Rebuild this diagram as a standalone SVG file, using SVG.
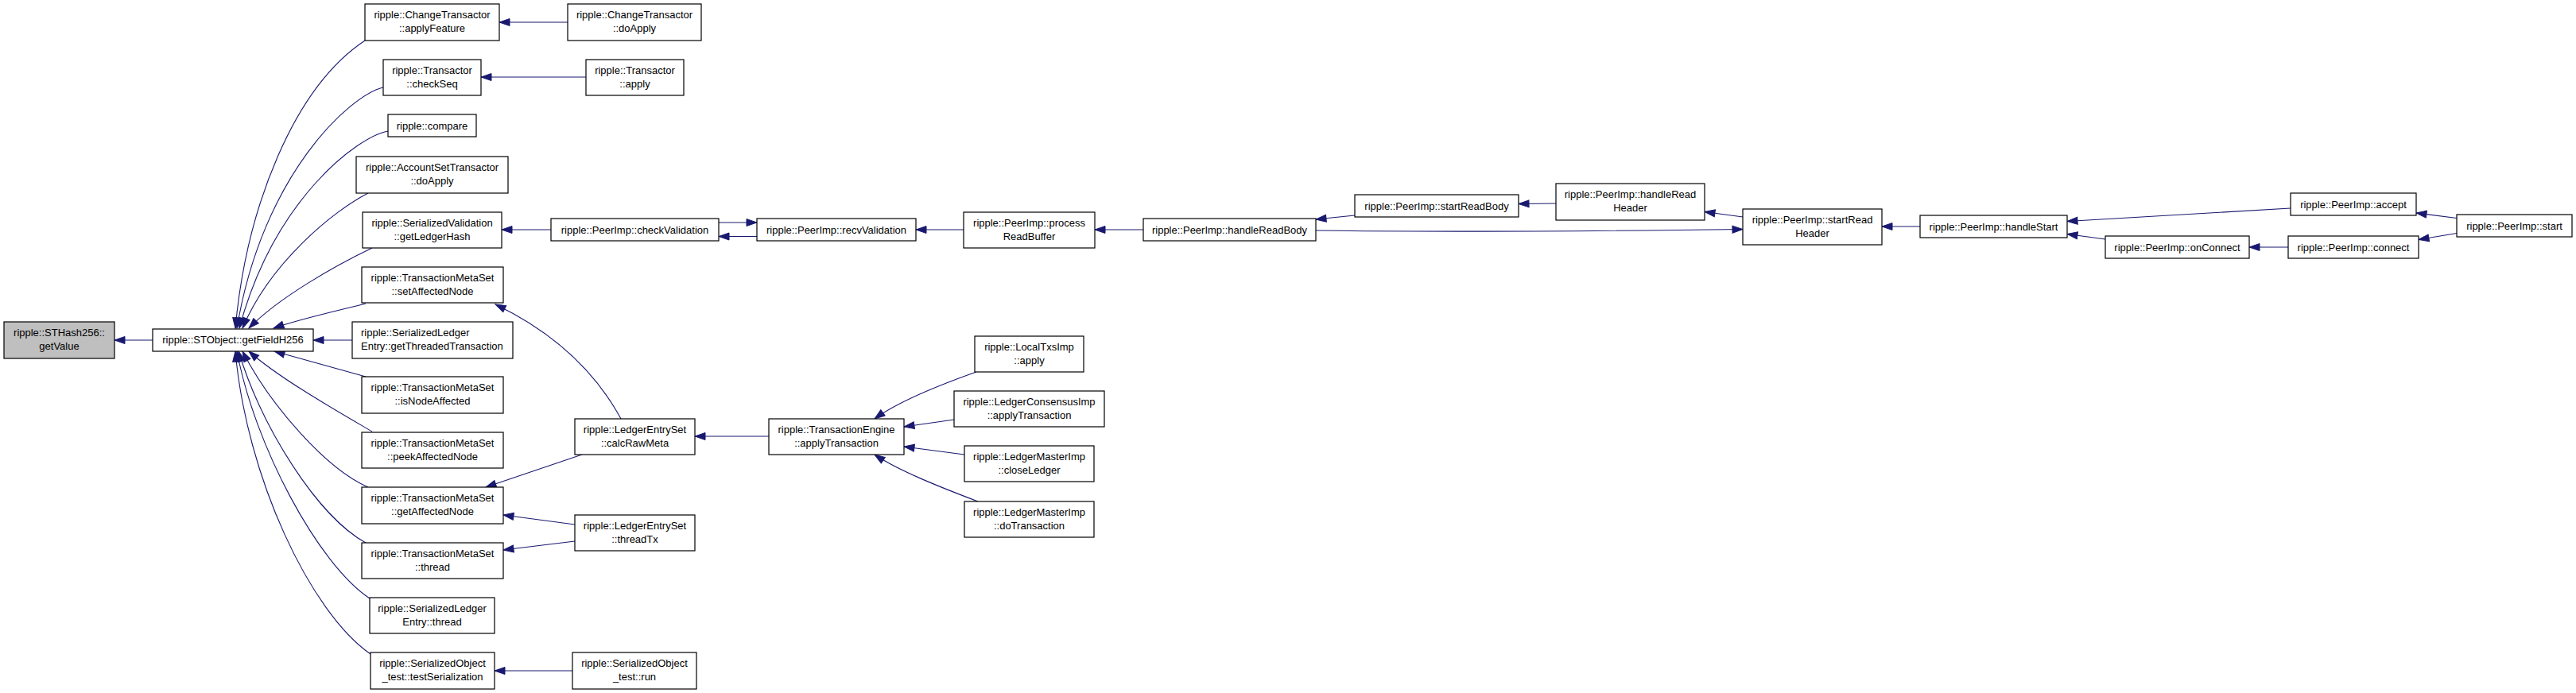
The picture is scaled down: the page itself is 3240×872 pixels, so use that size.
<svg xmlns="http://www.w3.org/2000/svg" width="3240" height="872" viewBox="0 0 3240 872">
<style>
.n rect{fill:#fff;stroke:#000;stroke-width:1.2}
.n.g rect{fill:#bfbfbf}
.n text{font-family:"Liberation Sans",Arial,sans-serif;font-size:13px;text-anchor:middle;fill:#000}
.n text.l{text-anchor:start}
.e path{fill:none;stroke:#191970;stroke-width:1.1;marker-end:url(#arr)}
</style>
<defs>
<marker id="arr" markerUnits="userSpaceOnUse" markerWidth="14" markerHeight="10" refX="13" refY="4.5" orient="auto" viewBox="0 0 14 10" overflow="visible">
<path d="M0,0 L13,4.5 L0,9 z" fill="#191970" stroke="#191970" stroke-width="1"/>
</marker>
</defs>
<rect width="3240" height="872" fill="#fff"/>
<g class="e" id="edges">
<path d="M192,428 L144,428"/>
<path d="M459,51 C370,110 310,260 296,413"/>
<path d="M482,110 C440,120 330,220 298,413"/>
<path d="M488,165 C450,172 345,250 301,413"/>
<path d="M463,243 C420,265 340,330 305,413"/>
<path d="M468,312 C420,335 350,375 313,413"/>
<path d="M460,382 C420,392 375,402 344,413"/>
<path d="M443,428 L394,428"/>
<path d="M460,474 C420,463 380,452 345,442"/>
<path d="M468,543 C420,515 350,475 313,442"/>
<path d="M463,613 C410,590 340,510 305,442"/>
<path d="M460,683 C400,650 330,540 300,442"/>
<path d="M465,753 C400,710 320,560 298,442"/>
<path d="M466,823 C390,770 310,600 296,442"/>
<path d="M714,28 L628,28"/>
<path d="M737,97 L605,97"/>
<path d="M693,289 L631,289"/>
<path d="M904,280 L952,280"/>
<path d="M952,297.5 L904,297.5"/>
<path d="M1212,289 L1152,289"/>
<path d="M1438,289 L1377,289"/>
<path d="M1704,271 L1655,276"/>
<path d="M1957,256 L1910,256.5"/>
<path d="M2192,273 L2144,266.5"/>
<path d="M1655,290 C1800,292 2000,291 2192,288.5"/>
<path d="M2415,285 L2367,285"/>
<path d="M2881,262 C2780,268 2680,274 2600,278.5"/>
<path d="M2648,301 L2600,294.5"/>
<path d="M3090,274.5 L3039,268"/>
<path d="M3090,293.5 L3042,301.5"/>
<path d="M2878,311 L2829,311"/>
<path d="M781,527 C750,470 700,420 623,383"/>
<path d="M732,572 L611,613"/>
<path d="M723,660 L633,648"/>
<path d="M723,681 L633,692"/>
<path d="M967,549 L874,549"/>
<path d="M1228,468 C1180,485 1130,505 1100,527"/>
<path d="M1200,528 L1137,537"/>
<path d="M1213,572 L1137,562"/>
<path d="M1230,631 C1180,612 1130,592 1100,572"/>
<path d="M720,844 L622,844"/>
</g>
<g class="n g" id="n_getValue"><rect x="5" y="405" width="139" height="46"/><text x="74.5" y="423">ripple::STHash256::</text><text x="74.5" y="440">getValue</text></g>
<g class="n" id="n_getFieldH256"><rect x="192" y="414" width="202" height="28"/><text x="293" y="432">ripple::STObject::getFieldH256</text></g>
<g class="n" id="n_applyFeature"><rect x="459" y="5" width="169" height="46"/><text x="543.5" y="23">ripple::ChangeTransactor</text><text x="543.5" y="40">::applyFeature</text></g>
<g class="n" id="n_ctDoApply"><rect x="714" y="5" width="168" height="46"/><text x="798" y="23">ripple::ChangeTransactor</text><text x="798" y="40">::doApply</text></g>
<g class="n" id="n_checkSeq"><rect x="482" y="75" width="123" height="45"/><text x="543.5" y="93">ripple::Transactor</text><text x="543.5" y="110">::checkSeq</text></g>
<g class="n" id="n_trApply"><rect x="737" y="75" width="123" height="45"/><text x="798.5" y="93">ripple::Transactor</text><text x="798.5" y="110">::apply</text></g>
<g class="n" id="n_compare"><rect x="488" y="144" width="111" height="28"/><text x="543.5" y="162.5">ripple::compare</text></g>
<g class="n" id="n_astDoApply"><rect x="448" y="197" width="191" height="46"/><text x="543.5" y="215">ripple::AccountSetTransactor</text><text x="543.5" y="232">::doApply</text></g>
<g class="n" id="n_getLedgerHash"><rect x="456" y="267" width="175" height="45"/><text x="543.5" y="285">ripple::SerializedValidation</text><text x="543.5" y="302">::getLedgerHash</text></g>
<g class="n" id="n_checkValidation"><rect x="693" y="275" width="211" height="28"/><text x="798.5" y="293.5">ripple::PeerImp::checkValidation</text></g>
<g class="n" id="n_setAffectedNode"><rect x="455" y="336" width="178" height="45"/><text x="544" y="354">ripple::TransactionMetaSet</text><text x="544" y="371">::setAffectedNode</text></g>
<g class="n" id="n_getThreadedTx"><rect x="443" y="405" width="202" height="46"/><text class="l" x="454" y="423">ripple::SerializedLedger</text><text class="l" x="454" y="440">Entry::getThreadedTransaction</text></g>
<g class="n" id="n_isNodeAffected"><rect x="455" y="474" width="178" height="46"/><text x="544" y="492">ripple::TransactionMetaSet</text><text x="544" y="509">::isNodeAffected</text></g>
<g class="n" id="n_peekAffectedNode"><rect x="455" y="544" width="178" height="45"/><text x="544" y="562">ripple::TransactionMetaSet</text><text x="544" y="579">::peekAffectedNode</text></g>
<g class="n" id="n_getAffectedNode"><rect x="455" y="613" width="178" height="46"/><text x="544" y="631">ripple::TransactionMetaSet</text><text x="544" y="648">::getAffectedNode</text></g>
<g class="n" id="n_tmsThread"><rect x="455" y="683" width="178" height="45"/><text x="544" y="701">ripple::TransactionMetaSet</text><text x="544" y="718">::thread</text></g>
<g class="n" id="n_sleThread"><rect x="465" y="752" width="157" height="45"/><text x="543.5" y="770">ripple::SerializedLedger</text><text x="543.5" y="787">Entry::thread</text></g>
<g class="n" id="n_testSerialization"><rect x="466" y="821" width="156" height="46"/><text x="544" y="839">ripple::SerializedObject</text><text x="544" y="856">_test::testSerialization</text></g>
<g class="n" id="n_sotRun"><rect x="720" y="821" width="156" height="46"/><text x="798" y="839">ripple::SerializedObject</text><text x="798" y="856">_test::run</text></g>
<g class="n" id="n_calcRawMeta"><rect x="723" y="527" width="151" height="45"/><text x="798.5" y="545">ripple::LedgerEntrySet</text><text x="798.5" y="562">::calcRawMeta</text></g>
<g class="n" id="n_threadTx"><rect x="723" y="648" width="151" height="45"/><text x="798.5" y="666">ripple::LedgerEntrySet</text><text x="798.5" y="683">::threadTx</text></g>
<g class="n" id="n_applyTransaction"><rect x="967" y="527" width="170" height="45"/><text x="1052" y="545">ripple::TransactionEngine</text><text x="1052" y="562">::applyTransaction</text></g>
<g class="n" id="n_localTxsApply"><rect x="1226" y="423" width="137" height="45"/><text x="1294.5" y="441">ripple::LocalTxsImp</text><text x="1294.5" y="458">::apply</text></g>
<g class="n" id="n_lcApplyTx"><rect x="1200" y="492" width="189" height="45"/><text x="1294.5" y="510">ripple::LedgerConsensusImp</text><text x="1294.5" y="527">::applyTransaction</text></g>
<g class="n" id="n_closeLedger"><rect x="1213" y="561" width="163" height="45"/><text x="1294.5" y="579">ripple::LedgerMasterImp</text><text x="1294.5" y="596">::closeLedger</text></g>
<g class="n" id="n_doTransaction"><rect x="1213" y="631" width="163" height="45"/><text x="1294.5" y="649">ripple::LedgerMasterImp</text><text x="1294.5" y="666">::doTransaction</text></g>
<g class="n" id="n_recvValidation"><rect x="952" y="275" width="200" height="28"/><text x="1052" y="293.5">ripple::PeerImp::recvValidation</text></g>
<g class="n" id="n_processReadBuffer"><rect x="1212" y="267" width="165" height="45"/><text x="1294.5" y="285">ripple::PeerImp::process</text><text x="1294.5" y="302">ReadBuffer</text></g>
<g class="n" id="n_handleReadBody"><rect x="1438" y="275" width="217" height="28"/><text x="1546.5" y="293.5">ripple::PeerImp::handleReadBody</text></g>
<g class="n" id="n_startReadBody"><rect x="1704" y="245" width="206" height="28"/><text x="1807" y="263.5">ripple::PeerImp::startReadBody</text></g>
<g class="n" id="n_handleReadHeader"><rect x="1957" y="231" width="187" height="46"/><text x="2050.5" y="249">ripple::PeerImp::handleRead</text><text x="2050.5" y="266">Header</text></g>
<g class="n" id="n_startReadHeader"><rect x="2192" y="263" width="175" height="45"/><text x="2279.5" y="281">ripple::PeerImp::startRead</text><text x="2279.5" y="298">Header</text></g>
<g class="n" id="n_handleStart"><rect x="2415" y="271" width="185" height="28"/><text x="2507.5" y="289.5">ripple::PeerImp::handleStart</text></g>
<g class="n" id="n_accept"><rect x="2881" y="243" width="158" height="28"/><text x="2960" y="261.5">ripple::PeerImp::accept</text></g>
<g class="n" id="n_start"><rect x="3090" y="270" width="145" height="28"/><text x="3162.5" y="288.5">ripple::PeerImp::start</text></g>
<g class="n" id="n_onConnect"><rect x="2648" y="297" width="181" height="28"/><text x="2738.5" y="315.5">ripple::PeerImp::onConnect</text></g>
<g class="n" id="n_connect"><rect x="2878" y="297" width="164" height="28"/><text x="2960" y="315.5">ripple::PeerImp::connect</text></g>
</svg>
